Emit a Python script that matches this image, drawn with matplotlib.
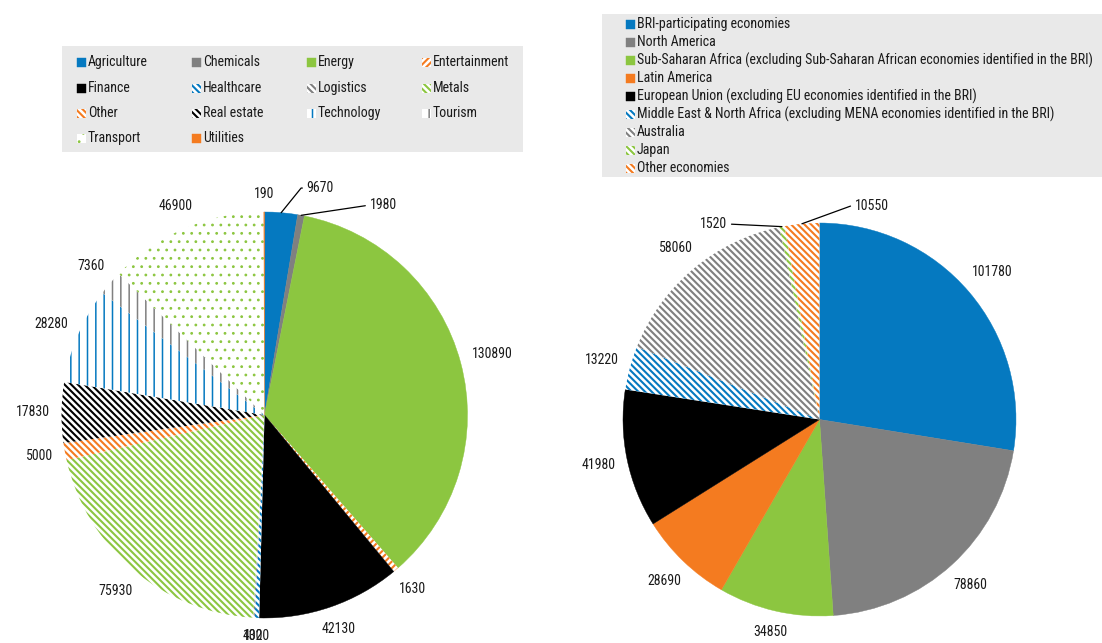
"""Two pie charts: investment by sector and by source economy."""
import numpy as np
import matplotlib.pyplot as plt
import matplotlib.patches as mpatches
from matplotlib import font_manager

W, H = 1102, 643

# Left pie: sectors
sectors = ['Agriculture', 'Chemicals', 'Energy', 'Entertainment', 'Finance',
           'Healthcare', 'Logistics', 'Metals', 'Other', 'Real estate',
           'Technology', 'Tourism', 'Transport', 'Utilities']
sector_values = [9670, 1980, 130890, 1630, 42130, 1320, 400, 75930, 5000,
                 17830, 28280, 7360, 46900, 190]

# Right pie: source economies
regions = ['BRI-participating economies', 'North America',
           'Sub-Saharan Africa (excluding Sub-Saharan African economies identified in the BRI)',
           'Latin America',
           'European Union (excluding EU economies identified in the BRI)',
           'Middle East & North Africa (excluding MENA economies identified in the BRI)',
           'Australia', 'Japan', 'Other economies']
region_values = [101780, 78860, 34850, 28690, 41980, 13220, 58060, 1520, 10550]

BLUE = '#0579c0'
GRAY = '#808080'
GREEN = '#8cc640'
ORANGE = '#f47b20'
BLACK = '#000000'
BG = '#e9e9e9'
DIAG = '\\' * 5

# (colour, hatch) per slice
sector_styles = [(BLUE, None), (GRAY, None), (GREEN, None), (ORANGE, '/////'),
                 (BLACK, None), (BLUE, DIAG), (GRAY, DIAG), (GREEN, DIAG),
                 (ORANGE, DIAG), (BLACK, DIAG), (BLUE, '||'), (GRAY, '||'),
                 (GREEN, '..'), (ORANGE, None)]
region_styles = [(BLUE, None), (GRAY, None), (GREEN, None), (ORANGE, None),
                 (BLACK, None), (BLUE, DIAG), (GRAY, DIAG), (GREEN, DIAG),
                 (ORANGE, DIAG)]

# the original uses a narrow Arial; take a narrow face if one is installed
names = {f.name for f in font_manager.fontManager.ttflist}
FONT = 'Liberation Sans'
for cand in ['Liberation Sans Narrow', 'Arial Narrow', 'Roboto Condensed',
             'Open Sans Condensed']:
    if cand in names:
        FONT = cand
        break
plt.rcParams['font.family'] = [FONT, 'DejaVu Sans']
plt.rcParams['hatch.linewidth'] = 1.5
TXT = '#1a1a1a'
GAP = 11  # px between pie edge and label box

fig = plt.figure(figsize=(W / 100, H / 100), dpi=100)
renderer = fig.canvas.get_renderer()

# size the text so the longest legend entry is as wide as in the original
probe = fig.text(0, 0, regions[2], fontsize=10)
FS = 10 * 454 / probe.get_window_extent(renderer).width
probe.remove()


def px_axes(cx, cy, r):
    return fig.add_axes([(cx - r) / W, 1 - (cy + r) / H, 2 * r / W, 2 * r / H])


def style_patch(p, color, hatch):
    if hatch:
        p.set_facecolor('white')
        p.set_edgecolor(color)
        p.set_hatch(hatch)
        p.set_linewidth(0)
        if hasattr(p, 'set_hatch_linewidth'):
            if '.' in hatch:
                p.set_hatch_linewidth(0.8)
            elif '|' in hatch:
                p.set_hatch_linewidth(1.1)
    else:
        p.set_facecolor(color)
        p.set_edgecolor(color)
        p.set_linewidth(0.3)


def draw_pie(ax, values, styles):
    wedges, _ = ax.pie(values, startangle=90, counterclock=False, radius=1)
    for w, (color, hatch) in zip(wedges, styles):
        style_patch(w, color, hatch)
        w.set_clip_on(False)
    ax.set_xlim(-1, 1)
    ax.set_ylim(-1, 1)
    ax.set_aspect('equal')
    ax.axis('off')
    return wedges


def mid_dir(w):
    a = np.deg2rad((w.theta1 + w.theta2) / 2)
    return np.cos(a), np.sin(a)


def put_labels(ax, wedges, values, r_px, skip):
    for i, (w, v) in enumerate(zip(wedges, values)):
        if i in skip:
            continue
        t = ax.text(0, 0, f'{v}', ha='center', va='center', fontsize=FS, color=TXT)
        bb = t.get_window_extent(renderer)
        ux, uy = mid_dir(w)
        r = r_px + GAP + bb.width / 2 * abs(ux) + bb.height / 2 * abs(uy)
        t.set_position((r / r_px * ux, r / r_px * uy))


def leader(ax, w, v, xytext, ha, conn='arc3'):
    relx = 0 if ha == 'left' else 1
    ax.annotate(f'{v}', xy=mid_dir(w), xytext=xytext, ha=ha, va='center',
                fontsize=FS, color=TXT, annotation_clip=False,
                arrowprops=dict(arrowstyle='-', lw=0.9, color=BLACK,
                                shrinkA=1, shrinkB=0, relpos=(relx, 0.5),
                                connectionstyle=conn))


def draw_legend(box, labels, styles, col_x, row_y, ncol):
    x0, y0, x1, y1 = box
    fig.patches.append(mpatches.Rectangle(
        (x0 / W, 1 - y1 / H), (x1 - x0) / W, (y1 - y0) / H,
        transform=fig.transFigure, facecolor=BG, edgecolor='none'))
    for i, (label, (color, hatch)) in enumerate(zip(labels, styles)):
        cx = col_x[i % ncol]
        cy = row_y[i // ncol]
        sw = mpatches.Rectangle((cx / W, 1 - (cy + 4.5) / H), 9 / W, 9 / H,
                                transform=fig.transFigure)
        style_patch(sw, color, hatch)
        fig.patches.append(sw)
        fig.text((cx + 11) / W, 1 - cy / H, label, ha='left', va='center',
                 fontsize=FS, color=TXT)


# Left pie
ax1 = px_axes(264.5, 415, 203)
w1 = draw_pie(ax1, sector_values, sector_styles)
put_labels(ax1, w1, sector_values, 203, skip={0, 1})
leader(ax1, w1[0], sector_values[0], (0.207, 1.118), 'left',
       'angle,angleA=0,angleB=51,rad=0')
leader(ax1, w1[1], sector_values[1], (0.517, 1.034), 'left')

# Right pie
ax2 = px_axes(819.5, 419.5, 196.5)
w2 = draw_pie(ax2, region_values, region_styles)
put_labels(ax2, w2, region_values, 196.5, skip={7, 8})
leader(ax2, w2[7], region_values[7], (-0.469, 0.995), 'right')
leader(ax2, w2[8], region_values[8], (0.179, 1.087), 'left',
       'angle,angleA=0,angleB=20,rad=0')

# Legends
draw_legend((62, 46, 523, 152), sectors, sector_styles,
            [77, 192, 307, 422], [62, 88, 113, 138], 4)
draw_legend((602, 14, 1102, 177), regions, region_styles,
            [626], [24 + 18 * i for i in range(len(regions))], 1)

fig.savefig('out.png', dpi=100)
